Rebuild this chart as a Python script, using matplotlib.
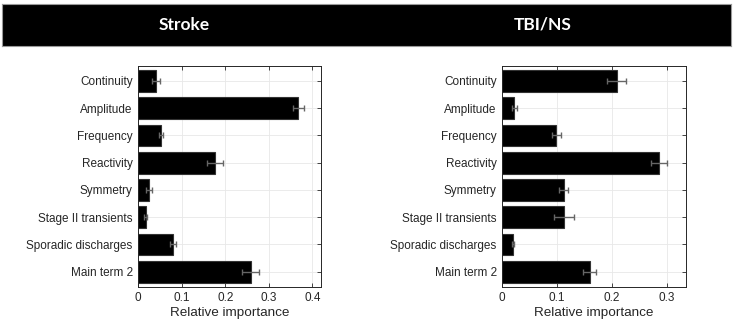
import numpy as np
import matplotlib
matplotlib.use('Agg')
import matplotlib.pyplot as plt

features = ['Continuity', 'Amplitude', 'Frequency', 'Reactivity', 'Symmetry',
            'Stage II transients', 'Sporadic discharges', 'Main term 2']

stroke_vals = [0.040, 0.368, 0.052, 0.176, 0.025, 0.017, 0.080, 0.258]
stroke_err = [0.009, 0.012, 0.005, 0.018, 0.007, 0.004, 0.006, 0.019]

tbi_vals = [0.209, 0.022, 0.099, 0.286, 0.112, 0.113, 0.019, 0.160]
tbi_err = [0.017, 0.004, 0.009, 0.015, 0.008, 0.018, 0.002, 0.012]

titles = ['Stroke', 'TBI/NS']
xticks_stroke = [0, 0.1, 0.2, 0.3, 0.4]
xticks_tbi = [0, 0.1, 0.2, 0.3]

plt.rcParams['font.family'] = ['Liberation Sans', 'DejaVu Sans']

fig = plt.figure(figsize=(7.36, 3.28), dpi=100)
W, H = 736.0, 328.0

# black title banner
ban = fig.add_axes([2 / W, 1 - 46 / H, 729 / W, 42 / H])
ban.set_facecolor('black')
ban.set_xticks([])
ban.set_yticks([])
for s in ban.spines.values():
    s.set_color('#999999')
ban.set_xlim(0, 1)
ban.set_ylim(0, 1)
ban.text(0.25, 0.5, titles[0], color='white', fontsize=12.5, fontweight='bold',
         family='Lato', ha='center', va='center')
ban.text(0.741, 0.5, titles[1], color='white', fontsize=12.5, fontweight='bold',
         family='Lato', ha='center', va='center')


def panel(left, right, vals, errs, xmax, xticks):
    ax = fig.add_axes([left / W, 1 - 286.7 / H, (right - left) / W, 220.7 / H])
    y = np.arange(1, len(features) + 1)
    ax.barh(y, vals, height=0.8, color='black', edgecolor='#333333',
            linewidth=0.8, zorder=2)
    ax.errorbar(vals, y, xerr=errs, fmt='none', ecolor='#666666',
                elinewidth=1, capsize=2, capthick=1, zorder=3)
    ax.set_ylim(8.55, 0.45)
    ax.set_yticks(y)
    ax.set_yticklabels(features)
    ax.set_xlim(0, xmax)
    ax.set_xticks(xticks)
    ax.set_xticklabels(['0' if t == 0 else '%g' % t for t in xticks])
    ax.grid(True, color='#e8e8e8', linewidth=0.6, zorder=0)
    ax.tick_params(direction='in', top=True, right=True, length=3,
                   width=0.6, labelsize=8.5, color='#262626',
                   labelcolor='#262626', pad=4)
    ax.set_xlabel('Relative importance', fontsize=9.7, color='#262626', labelpad=2)
    for s in ax.spines.values():
        s.set_color('#262626')
        s.set_linewidth(0.7)
    return ax


panel(138.3, 321, stroke_vals, stroke_err, 0.42, xticks_stroke)
panel(502.3, 685.7, tbi_vals, tbi_err, 0.335, xticks_tbi)

fig.savefig('out.png', dpi=100, facecolor='white')
